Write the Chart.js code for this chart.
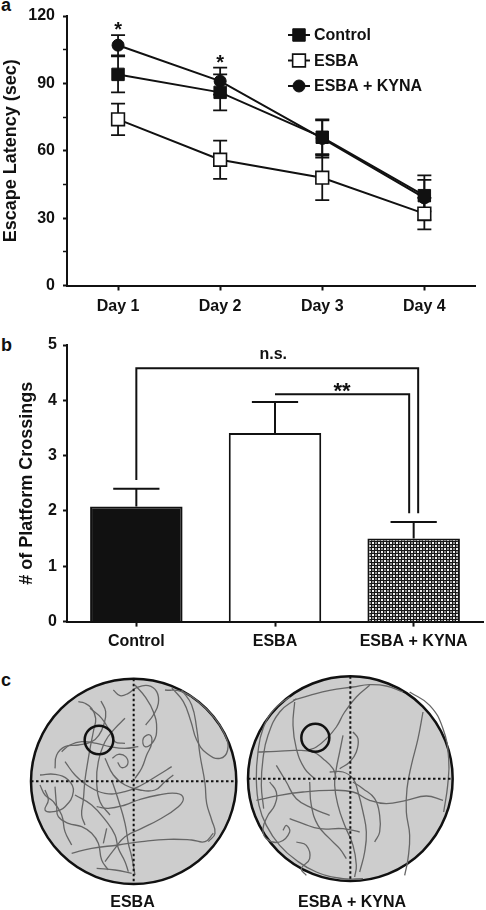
<!DOCTYPE html>
<html>
<head>
<meta charset="utf-8">
<script src="https://cdn.jsdelivr.net/npm/chart.js@4.4.0/dist/chart.umd.min.js"></script>
<style>
  html, body { margin: 0; padding: 0; background: #fff; overflow: hidden; }
  body { width: 486px; height: 910px; position: relative; }
  canvas { position: absolute; }
  .tag { position: absolute; font: bold 18px 'Liberation Sans', Arial, sans-serif; color: #111; line-height: 18px; }
</style>
</head>
<body>
<div class="tag" style="left:1px;top:-4px">a</div>
<div class="tag" style="left:1px;top:336px">b</div>
<div class="tag" style="left:1px;top:671px">c</div>
<canvas id="latency" width="486" height="320" style="left:0;top:0"></canvas>
<canvas id="crossings" width="486" height="340" style="left:0;top:320px"></canvas>
<canvas id="pool-esba" width="215" height="240" style="left:25px;top:675px"></canvas>
<canvas id="pool-kyna" width="218" height="243" style="left:243px;top:672px"></canvas>
<script>
// a: escape latency (sec), mean +/- SEM
const days = ['Day 1', 'Day 2', 'Day 3', 'Day 4'];
const controlLatency = [94, 86, 66, 40];
const controlErr = [8, 8, 7.5, 7];
const esbaLatency = [74, 56, 48, 32];
const esbaErr = [7, 8.5, 10, 7];
const kynaLatency = [107, 91, 65.5, 39];
const kynaErr = [4.5, 6, 8.5, 10];
const latencySig = ['*', '*', '', ''];

// b: platform crossings
const groups = ['Control', 'ESBA', 'ESBA + KYNA'];
const crossings = [2.08, 3.41, 1.5];
const crossingsErr = [0.32, 0.56, 0.3];
const brackets = [
  { from: 0, to: 2, level: 4.58, leftEnd: 2.56, rightEnd: 1.96, label: 'n.s.' },
  { from: 1, to: 2, level: 4.11, leftEnd: null, rightEnd: 1.96, label: '**' }
];

// c: swim paths, tracking image units
const esbaPool = { x: 326, y: 319, r: 308 };
const esbaPlatform = { x: 222, y: 195, r: 43 };
const esbaPaths = [
  [[160,80],[178,84],[200,100],[212,130],[206,165],[198,205],[190,250],[180,315],[175,375],[170,420],[180,450]],
  [[228,78],[242,110],[236,150],[222,180],[200,200],[160,210],[120,215],[95,240],[90,280]],
  [[265,45],[285,62],[310,55],[335,38],[370,32],[395,50],[400,85],[385,120],[362,150]],
  [[330,30],[360,65],[385,110],[395,160],[385,200],[360,215],[355,190],[375,180],[380,205],[365,240],[350,280],[330,310]],
  [[440,38],[475,80],[498,140],[515,195],[545,235],[585,250],[608,225],[600,180],[570,130],[520,80],[470,50],[420,45]],
  [[470,45],[500,90],[515,160],[525,240],[540,325],[545,385],[560,435],[570,475],[550,500]],
  [[140,535],[200,520],[280,510],[350,500],[430,493],[500,495],[540,500],[565,475]],
  [[240,560],[270,520],[300,485],[350,460],[400,435],[460,395],[475,370],[455,355],[400,360],[340,375],[300,390],[250,400],[215,395]],
  [[262,250],[280,238],[302,245],[308,268],[290,278],[278,262]],
  [[260,315],[280,375],[300,445],[310,505],[320,545],[330,600]],
  [[90,335],[95,395],[100,425],[130,445],[170,455],[200,475],[220,505],[230,555],[250,585]],
  [[45,300],[90,298],[130,315],[145,350],[120,395],[85,410],[60,405],[70,375],[60,345]],
  [[110,230],[135,210],[170,200],[215,205],[255,215],[300,220],[340,215]],
  [[215,580],[270,585],[320,595]],
  [[235,505],[245,460]],
  [[120,260],[150,300],[185,330],[240,355],[300,350],[350,330],[400,300],[440,275]],
  [[195,100],[230,130],[255,170],[270,200],[300,205]],
  [[150,360],[200,390],[245,440],[270,480],[280,520],[300,560],[310,590]],
  [[45,330],[60,360],[85,380],[110,420],[120,470],[140,510]],
  [[240,250],[265,300],[300,330],[345,345],[390,345],[420,320],[445,300]],
  [[300,130],[270,160],[240,200],[220,260],[215,320],[225,380],[255,420]]
];

const kynaPool = { x: 322, y: 320, r: 307 };
const kynaPlatform = { x: 217, y: 197, r: 42 };
const kynaPaths = [
  [[140,75],[95,110],[60,170],[45,240],[40,320],[48,400],[70,460],[110,520],[160,565],[220,600],[300,620],[360,620]],
  [[160,80],[110,120],[75,190],[60,260],[55,340],[62,410]],
  [[500,60],[560,100],[600,170],[617,260],[614,340],[602,420]],
  [[150,85],[200,70],[260,55],[330,45],[380,38],[430,42],[480,60]],
  [[380,40],[340,75],[305,120],[280,165],[250,200],[220,225],[195,235]],
  [[540,120],[525,200],[505,280],[492,350],[490,420],[500,490],[495,560],[485,610]],
  [[40,385],[110,370],[180,360],[260,355],[330,360],[380,385],[430,395],[490,385],[550,372],[600,385]],
  [[45,240],[100,238],[160,235],[210,240],[240,260],[270,290],[280,320]],
  [[300,190],[290,240],[280,290],[275,340],[285,400],[305,460],[330,520],[340,580],[335,615]],
  [[290,290],[320,270],[340,240],[345,200],[330,180]],
  [[330,330],[360,350],[395,380],[410,430],[410,480],[395,510]],
  [[155,90],[150,160],[160,230],[185,290],[215,320]],
  [[80,330],[100,360],[95,400],[75,430],[60,470],[70,500],[110,510],[140,480],[130,460],[120,475]],
  [[200,330],[205,400],[225,460],[260,500],[290,530],[310,560]],
  [[140,440],[180,455],[230,470],[300,470],[350,480]],
  [[160,510],[190,520],[200,560],[175,590],[190,610]],
  [[260,300],[300,300],[330,320],[345,360],[360,420],[370,480],[365,540],[350,600]],
  [[100,280],[130,330],[160,380],[210,410],[260,430]]
];

const ink = '#111';
const family = "'Liberation Sans', Arial, sans-serif";

function boldFont(size) {
  return { family: family, size: size, weight: 'bold', lineHeight: 1 };
}

function drawMarker(ctx, ds, x, y) {
  ctx.beginPath();
  if (ds.pointStyle === 'rect') {
    let s = ds.pointRadius * Math.SQRT1_2;
    ctx.rect(x - s, y - s, 2 * s, 2 * s);
  } else {
    ctx.arc(x, y, ds.pointRadius, 0, Math.PI * 2);
  }
  ctx.fillStyle = ds.pointBackgroundColor;
  ctx.fill();
  ctx.lineWidth = ds.pointBorderWidth;
  ctx.strokeStyle = ink;
  ctx.stroke();
}

function checkerPattern() {
  let c = document.createElement('canvas');
  c.width = 6;
  c.height = 6;
  let g = c.getContext('2d');
  g.fillStyle = '#151515';
  g.fillRect(0, 0, 6, 6);
  g.fillStyle = '#f2f2f2';
  g.fillRect(0, 0, 2, 2);
  g.fillRect(3, 3, 2, 2);
  g.fillStyle = '#8c8c8c';
  g.fillRect(3, 0, 2, 2);
  g.fillRect(0, 3, 2, 2);
  return g.createPattern(c, 'repeat');
}

// vertical error bars for a line chart, drawn under the markers
const lineErrorBars = {
  id: 'lineErrorBars',
  beforeDatasetsDraw(chart) {
    const ctx = chart.ctx;
    const x = chart.scales.x;
    const y = chart.scales.y;
    ctx.save();
    ctx.strokeStyle = ink;
    ctx.lineWidth = 1.8;
    chart.data.datasets.forEach((ds) => {
      ds.data.forEach((v, j) => {
        let px = x.getPixelForValue(j);
        let top = y.getPixelForValue(v + ds.errors[j]);
        let bottom = y.getPixelForValue(v - ds.errors[j]);
        ctx.beginPath();
        ctx.moveTo(px, top);
        ctx.lineTo(px, bottom);
        ctx.moveTo(px - 7, top);
        ctx.lineTo(px + 7, top);
        ctx.moveTo(px - 7, bottom);
        ctx.lineTo(px + 7, bottom);
        ctx.stroke();
      });
    });
    ctx.restore();
  },
  afterDatasetsDraw(chart) {
    const ctx = chart.ctx;
    const x = chart.scales.x;
    const y = chart.scales.y;
    ctx.save();
    ctx.fillStyle = ink;
    ctx.font = 'bold 20px ' + family;
    ctx.textAlign = 'center';
    ctx.textBaseline = 'alphabetic';
    latencySig.forEach((mark, j) => {
      if (!mark) return;
      let tops = chart.data.datasets.map((ds) => y.getPixelForValue(ds.data[j] + ds.errors[j]));
      ctx.fillText(mark, x.getPixelForValue(j), Math.min.apply(null, tops) + 1);
    });
    ctx.restore();
  },
  afterDraw(chart) {
    const ctx = chart.ctx;
    ctx.save();
    ctx.font = 'bold 16px ' + family;
    ctx.textBaseline = 'middle';
    chart.data.datasets.forEach((ds, i) => {
      let yy = 35 + i * 25.5;
      ctx.strokeStyle = ink;
      ctx.lineWidth = 2;
      ctx.beginPath();
      ctx.moveTo(288, yy);
      ctx.lineTo(310, yy);
      ctx.stroke();
      drawMarker(ctx, ds, 299, yy);
      ctx.fillStyle = ink;
      ctx.fillText(ds.label, 314, yy + 1);
    });
    ctx.restore();
  }
};

new Chart(document.getElementById('latency'), {
  type: 'line',
  data: {
    labels: days,
    datasets: [
      { label: 'Control', data: controlLatency, errors: controlErr, pointStyle: 'rect', pointRadius: 8.8,
        pointBackgroundColor: ink, pointBorderWidth: 1, borderColor: ink, borderWidth: 2 },
      { label: 'ESBA', data: esbaLatency, errors: esbaErr, pointStyle: 'rect', pointRadius: 9,
        pointBackgroundColor: '#fff', pointBorderWidth: 1.6, borderColor: ink, borderWidth: 2 },
      { label: 'ESBA + KYNA', data: kynaLatency, errors: kynaErr, pointStyle: 'circle', pointRadius: 6,
        pointBackgroundColor: ink, pointBorderWidth: 1, borderColor: ink, borderWidth: 2 }
    ]
  },
  options: {
    responsive: false,
    animation: false,
    events: [],
    layout: { padding: { top: 8, right: 6, left: 0, bottom: 0 } },
    plugins: { legend: { display: false }, tooltip: { enabled: false } },
    elements: { point: { pointBorderColor: ink, borderColor: ink } },
    scales: {
      x: {
        offset: true,
        grid: { offset: false, drawOnChartArea: false, tickLength: 5, tickWidth: 2, tickColor: ink },
        border: { color: ink, width: 2 },
        ticks: { color: ink, font: boldFont(16), padding: 8.5 },
        afterFit: (s) => { s.height = 34.5; }
      },
      y: {
        min: 0,
        max: 120,
        grid: { drawOnChartArea: false, tickLength: 4, tickColor: ink,
          tickWidth: (c) => (c.tick && c.tick.value % 30 === 0 ? 2 : 1.5) },
        border: { color: ink, width: 2 },
        ticks: { stepSize: 15, color: ink, font: boldFont(16), padding: 8,
          callback: (v) => (v % 30 === 0 ? v : '') },
        title: { display: true, text: 'Escape Latency (sec)', color: ink, font: boldFont(18), padding: { top: 2, bottom: 0 } },
        afterFit: (s) => { s.width = 67; }
      }
    }
  },
  plugins: [lineErrorBars]
});

// upward error bars and significance brackets for the bar chart
const barExtras = {
  id: 'barExtras',
  afterDatasetsDraw(chart) {
    const ctx = chart.ctx;
    const x = chart.scales.x;
    const y = chart.scales.y;
    const ds = chart.data.datasets[0];
    const bars = chart.getDatasetMeta(0).data;
    ctx.save();
    ctx.strokeStyle = ink;
    ctx.lineWidth = 2;
    bars.forEach((bar, j) => {
      let top = y.getPixelForValue(ds.data[j] + ds.errors[j]);
      let half = bar.width * 0.25;
      ctx.beginPath();
      ctx.moveTo(bar.x, bar.y);
      ctx.lineTo(bar.x, top);
      ctx.moveTo(bar.x - half, top);
      ctx.lineTo(bar.x + half, top);
      ctx.stroke();
    });
    brackets.forEach((b, i) => {
      let shift = i === 0 ? 4.5 : -4.5;
      let xl = x.getPixelForValue(b.from);
      let xr = x.getPixelForValue(b.to) + shift;
      let yb = y.getPixelForValue(b.level);
      ctx.beginPath();
      if (b.leftEnd !== null) {
        ctx.moveTo(xl, y.getPixelForValue(b.leftEnd));
        ctx.lineTo(xl, yb);
      } else {
        ctx.moveTo(xl, yb);
      }
      ctx.lineTo(xr, yb);
      ctx.lineTo(xr, y.getPixelForValue(b.rightEnd));
      ctx.stroke();
      ctx.fillStyle = ink;
      ctx.textAlign = 'center';
      ctx.textBaseline = 'alphabetic';
      if (b.label.indexOf('*') === 0) {
        ctx.font = 'bold 22px ' + family;
        ctx.fillText(b.label, (xl + xr) / 2, yb + 3.5);
      } else {
        ctx.font = 'bold 16px ' + family;
        ctx.fillText(b.label, (xl + xr) / 2 - 4, yb - 9);
      }
    });
    ctx.restore();
  }
};

new Chart(document.getElementById('crossings'), {
  type: 'bar',
  data: {
    labels: groups,
    datasets: [{
      data: crossings,
      errors: crossingsErr,
      backgroundColor: [ink, '#fff', checkerPattern()],
      borderColor: ink,
      borderWidth: 2,
      borderSkipped: 'bottom',
      categoryPercentage: 1,
      barPercentage: 0.667
    }]
  },
  options: {
    responsive: false,
    animation: false,
    events: [],
    layout: { padding: { top: 25, right: 3, left: 0, bottom: 0 } },
    plugins: { legend: { display: false }, tooltip: { enabled: false } },
    scales: {
      x: {
        grid: { offset: false, drawOnChartArea: false, tickLength: 5, tickWidth: 2, tickColor: ink },
        border: { color: ink, width: 2 },
        ticks: { color: ink, font: boldFont(16), padding: 7 },
        afterFit: (s) => { s.height = 38.4; }
      },
      y: {
        min: 0,
        max: 5,
        grid: { drawOnChartArea: false, tickLength: 4, tickWidth: 2, tickColor: ink },
        border: { color: ink, width: 2 },
        ticks: { stepSize: 1, color: ink, font: boldFont(16), padding: 6 },
        title: { display: true, text: '# of Platform Crossings', color: ink, font: boldFont(18), padding: { top: 18.5, bottom: 0 } },
        afterFit: (s) => { s.width = 67; }
      }
    }
  },
  plugins: [barExtras]
});

function poolChart(id, label, pool, platform, paths, width, height) {
  const span = (chart, r) => chart.scales.x.getPixelForValue(r) - chart.scales.x.getPixelForValue(0);
  let datasets = [];
  datasets.push({
    data: [{ x: pool.x, y: pool.y }],
    pointRadius: (c) => span(c.chart, pool.r),
    pointBackgroundColor: '#cdcdcd',
    pointBorderColor: ink,
    pointBorderWidth: 2.5,
    order: 10
  });
  paths.forEach((p) => {
    datasets.push({
      data: p.map((q) => ({ x: q[0], y: q[1] })),
      showLine: true,
      pointRadius: 0,
      borderColor: '#666',
      borderWidth: 1.3,
      tension: 0.45,
      order: 5
    });
  });
  datasets.push({
    data: [{ x: pool.x - pool.r, y: pool.y }, { x: pool.x + pool.r, y: pool.y }],
    showLine: true, pointRadius: 0, borderColor: ink, borderWidth: 2, borderDash: [2.5, 2.5], order: 2
  });
  datasets.push({
    data: [{ x: pool.x, y: pool.y - pool.r }, { x: pool.x, y: pool.y + pool.r }],
    showLine: true, pointRadius: 0, borderColor: ink, borderWidth: 2, borderDash: [2.5, 2.5], order: 2
  });
  datasets.push({
    data: [{ x: platform.x, y: platform.y }],
    pointRadius: (c) => span(c.chart, platform.r),
    pointBackgroundColor: 'rgba(0,0,0,0)',
    pointBorderColor: ink,
    pointBorderWidth: 2.5,
    order: 1
  });

  new Chart(document.getElementById(id), {
    type: 'scatter',
    data: { datasets: datasets },
    options: {
      responsive: false,
      animation: false,
      events: [],
      layout: { padding: 0 },
      plugins: { legend: { display: false }, tooltip: { enabled: false } },
      datasets: { scatter: { clip: false } },
      scales: {
        x: {
          min: 0,
          max: width,
          ticks: { display: false },
          grid: { display: false },
          border: { display: false },
          title: { display: true, text: label, color: ink, font: boldFont(16), padding: { top: 0, bottom: 4 } },
          afterFit: (s) => { s.height = height; }
        },
        y: { min: 0, max: 645, reverse: true, display: false }
      }
    }
  });
}

poolChart('pool-esba', 'ESBA', esbaPool, esbaPlatform, esbaPaths, 645, 25);
poolChart('pool-kyna', 'ESBA + KYNA', kynaPool, kynaPlatform, kynaPaths, 654, 28);
</script>
</body>
</html>
